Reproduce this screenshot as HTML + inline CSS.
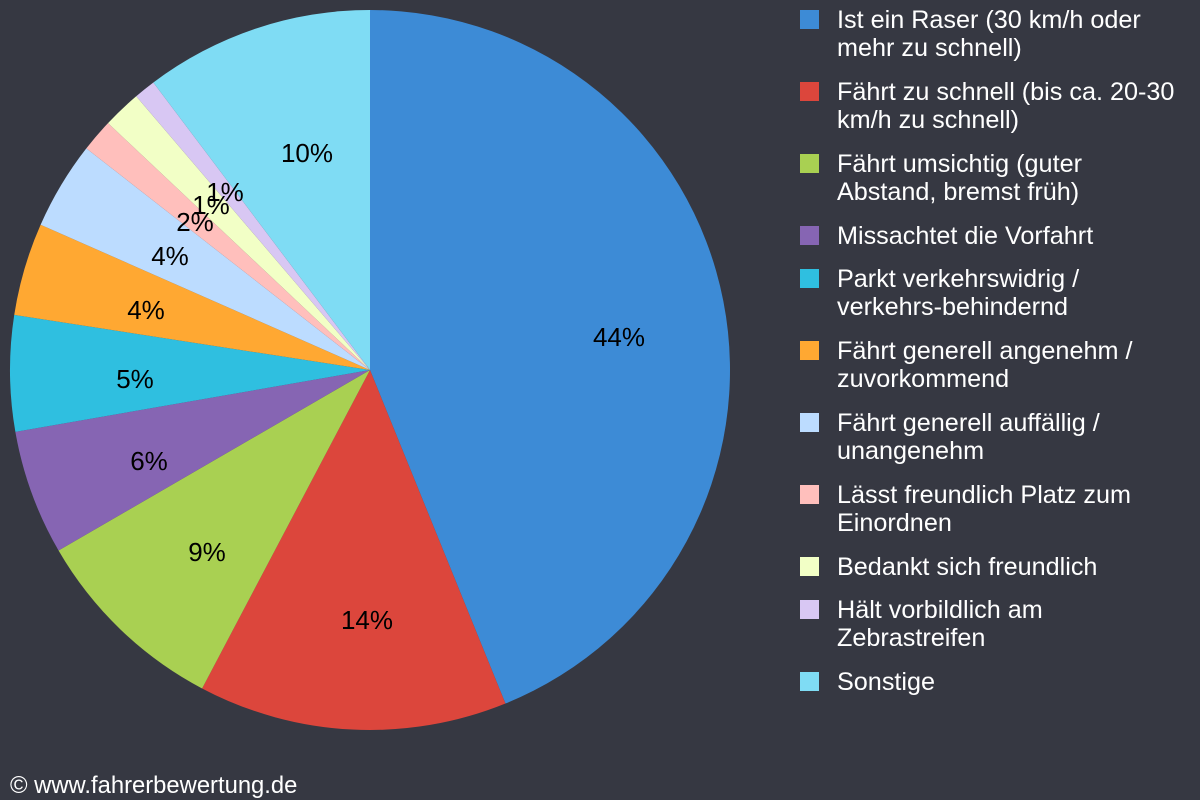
<!DOCTYPE html>
<html><head><meta charset="utf-8"><style>
html,body{margin:0;padding:0;background:#363842;width:1200px;height:800px;overflow:hidden;font-family:"Liberation Sans",sans-serif}
#leg{position:absolute;left:800px;top:0;color:#fff;font-size:25.2px;line-height:28px}
.it{position:absolute;left:0;width:400px}
.sq{position:absolute;left:0;top:5px;width:19px;height:19px}
.tx{position:absolute;left:37px;top:1px;white-space:nowrap}
#cr{position:absolute;left:10px;top:772px;color:#fff;font-size:23.8px}
</style></head><body>
<svg id="pie" width="1200" height="800" style="position:absolute;left:0;top:0"></svg>
<div id="leg"></div>
<div id="cr">© www.fahrerbewertung.de</div>
<script>
var cx=370,cy=370,r=360;
var ends=[0,157.9,207.8,239.9,260.1,278.8,293.8,308,313.3,319.5,323,360];
var cols=["#3d8bd6","#dc463c","#a9d052","#8665b3","#2fbfe0","#ffa832","#bcdcff","#ffbfbc","#f2ffc6","#d8c7f3","#7fdcf4"];
var s="";
function pt(a){var t=a*Math.PI/180;return [cx+r*Math.sin(t),cy-r*Math.cos(t)];}
for(var i=0;i<11;i++){var a=pt(ends[i]),b=pt(ends[i+1]);var large=(ends[i+1]-ends[i])>180?1:0;
s+='<path d="M'+cx+','+cy+' L'+a[0]+','+a[1]+' A'+r+','+r+' 0 '+large+' 1 '+b[0]+','+b[1]+' Z" fill="'+cols[i]+'"/>';}
var labs=[["44%",619,337],["14%",367,620],["9%",207,552],["6%",149,461],["5%",135,379],["4%",146,310],["4%",170,256],["2%",195,222],["1%",211,205],["1%",225,192],["10%",307,153]];
labs.forEach(function(l){s+='<text x="'+l[1]+'" y="'+(l[2]+9)+'" text-anchor="middle" font-family="Liberation Sans, sans-serif" font-size="26" fill="#000">'+l[0]+'</text>';});
document.getElementById('pie').innerHTML=s;
var items=[["Ist ein Raser (30 km/h oder<br>mehr zu schnell)",5],["Fährt zu schnell (bis ca. 20-30<br>km/h zu schnell)",77],["Fährt umsichtig (guter<br>Abstand, bremst früh)",149],["Missachtet die Vorfahrt",221],["Parkt verkehrswidrig /<br>verkehrs-behindernd",264],["Fährt generell angenehm /<br>zuvorkommend",336],["Fährt generell auffällig /<br>unangenehm",408],["Lässt freundlich Platz zum<br>Einordnen",480],["Bedankt sich freundlich",552],["Hält vorbildlich am<br>Zebrastreifen",595],["Sonstige",667]];
var h="";items.forEach(function(it,i){h+='<div class="it" style="top:'+it[1]+'px"><div class="sq" style="background:'+cols[i]+'"></div><div class="tx">'+it[0]+'</div></div>';});
document.getElementById('leg').innerHTML=h;
</script>
</body></html>
